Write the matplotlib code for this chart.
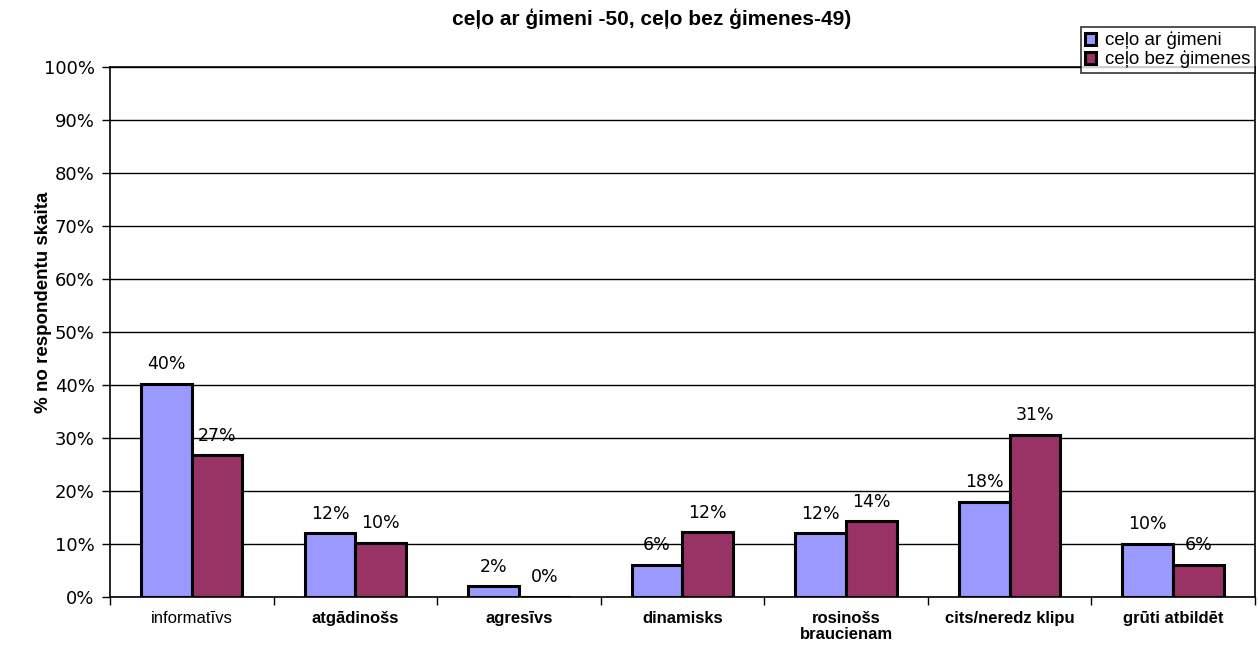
import matplotlib.pyplot as plt
import numpy as np

categories = ['informatīvs', 'atgādinošs', 'agresīvs', 'dinamisks',
              'rosinošs\nbraucienam', 'cits/neredz klipu', 'grūti atbildēt']
ar_gimeni = [40.2, 12.0, 2.0, 6.1, 12.0, 18.0, 10.0]
bez_gimenes = [26.7, 10.2, 0.0, 12.2, 14.3, 30.6, 6.1]
series_names = ['ceļo ar ģimeni', 'ceļo bez ģimenes']
colors = ['#9999FF', '#993366']

fig = plt.figure(figsize=(12.58, 6.66), dpi=100)
ax = fig.add_axes([0.0874, 0.1036, 0.9102, 0.7958])

x = np.arange(len(categories))
w = 0.31
b1 = ax.bar(x - w / 2, ar_gimeni, w, color=colors[0], edgecolor='black', linewidth=2.2,
            label=series_names[0], zorder=3)
b2 = ax.bar(x + w / 2, bez_gimenes, w, color=colors[1], edgecolor='black', linewidth=2.2,
            label=series_names[1], zorder=3)

for bars, vals in ((b1, ar_gimeni), (b2, bez_gimenes)):
    for rect, v in zip(bars, vals):
        ax.text(rect.get_x() + rect.get_width() / 2, v + 2.0, '%d%%' % round(v),
                ha='center', va='bottom', fontsize=12.5, family='DejaVu Sans')

ax.set_xlim(-0.5, len(categories) - 0.5)
ax.set_ylim(0, 100)
ax.set_yticks(np.arange(0, 101, 10))
ax.set_yticklabels(['%d%%' % t for t in range(0, 101, 10)], fontsize=13, family='DejaVu Sans')
ax.yaxis.grid(True, color='black', linewidth=1, zorder=0)
ax.set_axisbelow(True)

ax.set_xticks(np.arange(-0.5, len(categories), 1))
ax.set_xticklabels([])
ax.tick_params(axis='x', length=6, width=1, direction='out')
ax.tick_params(axis='y', length=6, width=1, direction='out', pad=5)
for i, c in enumerate(categories):
    fw = 'normal' if i == 0 else 'bold'
    ax.text(i, -2.6, c, ha='center', va='top', fontsize=12, fontweight=fw,
            family=['Liberation Sans Narrow', 'Liberation Sans'], stretch='condensed',
            linespacing=1.1)

for s in ax.spines.values():
    s.set_linewidth(1.2)
    s.set_color('black')

# y axis title sits a bit above the axes centre, like in the original
fig.text(44 / 1258, 1 - 302 / 666, '% no respondentu skaita', rotation=90,
         ha='center', va='center', fontsize=13.5, fontweight='bold', family='Liberation Sans')

fig.text(652 / 1258, 0.972, 'ceļo ar ģimeni -50, ceļo bez ģimenes-49)', ha='center', va='center',
         fontsize=15, fontweight='bold', family='Liberation Sans')

leg = ax.legend(loc='upper right', bbox_to_anchor=(1.0, 1.076), frameon=True, fancybox=False,
                edgecolor='black', handlelength=0.6, handleheight=0.6,
                handletextpad=0.45, borderpad=0.25, labelspacing=0.05, borderaxespad=0,
                prop={'family': 'Liberation Sans', 'size': 13.5})
leg.get_frame().set_linewidth(1.2)

fig.savefig('out.png', dpi=100)
